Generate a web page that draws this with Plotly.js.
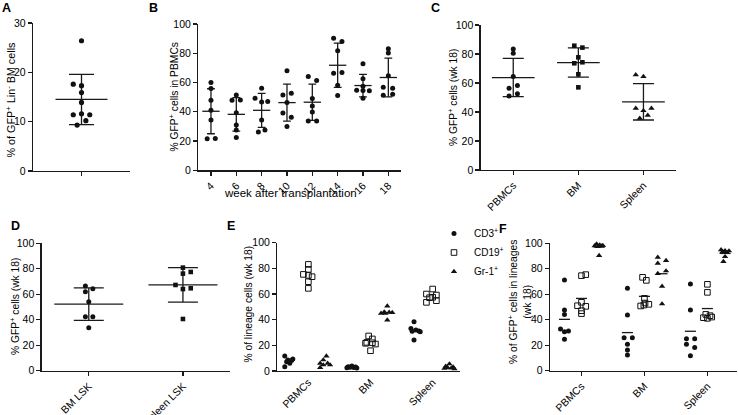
<!DOCTYPE html>
<html><head><meta charset="utf-8">
<script src="https://cdn.plot.ly/plotly-3.0.1.min.js"></script>
<style>html,body{margin:0;padding:0;background:#fff;} #chart{width:738px;height:415px;}</style>
</head><body><div id="chart"></div>
<script>
// ---------------- data ----------------
const aTicks = [0, 10, 20, 30];
const aLinBM = [26.4, 17.6, 17.3, 15.9, 13.9, 11.4, 11.6, 11.4, 10.2, 9.3];

const bWeeks = ['4', '6', '8', '10', '12', '14', '16', '18'];
const bWk4  = [60.0, 55.9, 47.9, 41.0, 34.4, 21.5, 21.8];
const bWk6  = [51.5, 47.9, 48.1, 39.4, 30.9, 27.5, 22.4];
const bWk8  = [56.1, 49.2, 46.7, 47.0, 34.4, 26.1, 27.5];
const bWk10 = [68.0, 51.5, 52.7, 46.3, 39.2, 36.2, 30.0];
const bWk12 = [64.1, 61.4, 49.0, 44.0, 39.9, 33.7, 33.7];
const bWk14 = [90.2, 88.0, 81.8, 66.4, 66.9, 58.2, 51.1];
const bWk16 = [72.8, 62.5, 57.5, 54.7, 54.3, 54.5, 49.2];
const bWk18 = [83.1, 80.2, 64.6, 56.8, 56.0, 51.3, 52.0];

const tissues = ['PBMCs', 'BM', 'Spleen'];
const cPBMC   = [83.4, 80.5, 64.4, 56.3, 58.2, 51.0, 52.6];
const cBM     = [85.7, 84.4, 77.7, 73.6, 74.3, 66.0, 57.0];
const cSpleen = [65.7, 64.4, 42.5, 40.9, 42.5, 37.7, 35.6];

const dGroups    = ['BM LSK', 'Spleen LSK'];
const dBMLSK     = [66.5, 64.4, 62.0, 54.2, 42.4, 42.4, 33.8];
const dSpleenLSK = [80.9, 76.2, 77.5, 67.3, 64.1, 64.7, 40.6];

const lineages = ['CD3<sup>+</sup>', 'CD19<sup>+</sup>', 'Gr-1<sup>+</sup>'];
const ePbmcCD3    = [11.7, 9.4, 8.6, 8.1, 7.3, 6.0, 3.4];
const ePbmcCD19   = [83.1, 79.2, 75.3, 74.5, 73.5, 69.6, 64.4];
const ePbmcGr1    = [11.7, 8.6, 6.0, 6.0, 4.7, 4.7, 2.6];
const eBmCD3      = [3.8, 3.4, 3.2, 3.0, 2.8, 2.6, 2.4];
const eBmCD19     = [27.3, 25.0, 22.3, 22.0, 21.6, 21.0, 15.8];
const eBmGr1      = [50.6, 46.0, 45.7, 45.5, 45.0, 44.9, 39.7];
const eSpleenCD3  = [38.4, 33.2, 31.9, 31.2, 31.0, 30.6, 24.2];
const eSpleenCD19 = [63.9, 60.0, 59.2, 57.5, 57.1, 54.8, 53.5];
const eSpleenGr1  = [5.5, 3.6, 3.0, 2.6, 2.3, 2.0, 1.6];

const fPbmcCD3    = [71.2, 47.6, 44.2, 32.7, 30.6, 31.2, 24.6];
const fPbmcCD19   = [74.6, 75.4, 53.7, 51.0, 50.5, 47.1, 44.8];
const fPbmcGr1    = [99.5, 98.7, 98.2, 97.4, 97.8, 98.0, 90.3];
const fBmCD3      = [64.7, 43.7, 25.9, 25.9, 20.7, 16.2, 12.3];
const fBmCD19     = [73.3, 70.9, 56.8, 53.1, 52.1, 51.5, 50.8];
const fBmGr1      = [89.0, 86.4, 84.3, 78.3, 76.2, 66.2, 52.4];
const fSpleenCD3  = [68.1, 47.6, 25.1, 25.1, 20.7, 18.3, 11.8];
const fSpleenCD19 = [67.8, 61.5, 44.2, 43.2, 41.6, 41.1, 42.1];
const fSpleenGr1  = [94.8, 94.2, 94.0, 93.5, 92.7, 89.5, 85.6];

// ---------------- scatter jitter (horizontal point placement, axis units) ----------------
const jitA = [0, -0.17, 0, 0, 0, -0.17, 0, 0.17, 0.09, -0.09];
const jitB = [
  [0, 0, 0, 0, 0, -0.15, 0.17],
  [0, -0.17, 0.16, 0, 0, 0, 0],
  [0, -0.26, 0, 0.24, 0, -0.13, 0.13],
  [0, -0.16, 0.17, 0, -0.16, 0.17, 0],
  [-0.16, 0.17, 0, 0, 0, -0.16, 0.17],
  [-0.16, 0.17, 0, -0.16, 0.17, 0, 0],
  [0, 0, 0, -0.25, 0.25, 0, 0],
  [0, 0, 0, -0.2, 0.17, -0.2, 0.17]
];
const jitC = [
  [0, 0, 0, -0.064, 0.064, -0.064, 0.064],
  [-0.062, 0.062, 0, -0.062, 0.062, 0, 0],
  [-0.118, 0, -0.118, 0, 0.123, 0.066, -0.056]
];
const jitD = [
  [-0.036, 0.043, -0.036, 0, -0.036, 0.043, 0],
  [0, 0, 0.083, -0.079, 0, 0.083, 0]
];
const jitE = [
  [[-0.08, 0.05, -0.03, 0.03, -0.05, 0, -0.08], [0, 0, -0.08, 0, 0.06, 0, 0], [0.02, -0.03, -0.08, 0.04, 0.08, -0.03, -0.08]],
  [[0, -0.06, 0.06, -0.03, 0.03, -0.08, 0.08], [-0.03, 0.03, -0.06, 0.03, -0.08, 0.08, 0], [0, -0.05, 0.03, 0.08, -0.1, -0.03, 0]],
  [[0, -0.05, 0.03, 0.08, -0.03, 0.1, 0], [0, -0.1, 0.06, 0, -0.05, 0.06, -0.1], [0, -0.06, 0.06, -0.03, 0.03, -0.08, 0.08]]
];
const jitF = [
  [[0, 0, 0, -0.063, 0, 0.063, 0], [0, 0.068, 0, -0.063, 0.068, 0, 0], [-0.04, 0.01, 0.06, -0.02, 0.04, -0.07, 0]],
  [[0, 0, -0.053, 0.078, 0, 0, 0], [-0.03, 0.03, 0, 0.01, 0.07, -0.01, -0.06], [-0.068, 0.063, -0.068, 0.063, -0.068, 0, 0]],
  [[0, 0, -0.063, 0.068, -0.063, 0.068, 0], [0, 0, -0.026, 0.042, -0.063, 0, 0.068], [-0.063, 0, 0.063, -0.037, 0.032, 0, -0.026]]
];

// ---------------- helpers ----------------
const W = 738, H = 415;
const FONT = 'Liberation Sans, Arial, Helvetica, sans-serif';
const INK = '#111';
const px = v => v / W;
const py = v => 1 - v / H;
const dX = (a, b) => [px(a), px(b)];
const dY = (top, bottom) => [py(bottom), py(top)];

function mean(a) { return a.reduce((s, v) => s + v, 0) / a.length; }
function sd(a) { const m = mean(a); return Math.sqrt(a.reduce((s, v) => s + (v - m) * (v - m), 0) / (a.length - 1)); }

const traces = [];
function points(vals, center, jit, ax, marker, extra) {
  traces.push(Object.assign({
    type: 'scatter', mode: 'markers',
    x: vals.map((v, i) => center + jit[i]), y: vals,
    xaxis: 'x' + ax, yaxis: 'y' + ax,
    marker: marker, cliponaxis: false, showlegend: false, hoverinfo: 'skip'
  }, extra || {}));
}
function summary(vals, center, ax, lineLen, capHalf, withSd) {
  const t = {
    type: 'scatter', mode: 'markers', x: [center], y: [mean(vals)],
    xaxis: 'x' + ax, yaxis: 'y' + ax, cliponaxis: false, showlegend: false, hoverinfo: 'skip',
    marker: { symbol: 'line-ew', size: lineLen / 1.4, line: { width: 1.3, color: '#1a1a1a' } }
  };
  if (withSd) t.error_y = { type: 'data', array: [sd(vals)], visible: true, width: capHalf, thickness: 1.3, color: '#1a1a1a' };
  traces.push(t);
}

const dot = { symbol: 'circle', size: 5, color: INK };
const sq = { symbol: 'square', size: 4.6, color: INK };
const tri = { symbol: 'triangle-up', size: 5.6, color: INK };
const osq = { symbol: 'square-open', size: 5.6, color: INK, line: { width: 1, color: INK } };

// Panel A
summary(aLinBM, 0, '', 52, 12.5, true);
points(aLinBM, 0, jitA, '', { symbol: 'circle', size: 5.2, color: INK });

// Panel B
const bData = [bWk4, bWk6, bWk8, bWk10, bWk12, bWk14, bWk16, bWk18];
bData.forEach((vals, i) => { summary(vals, i, '2', 17.3, 3.9, true); });
bData.forEach((vals, i) => { points(vals, i, jitB[i], '2', dot); });

// Panel C
const cData = [cPBMC, cBM, cSpleen];
const cMarks = [dot, sq, tri];
cData.forEach((vals, i) => { summary(vals, i, '3', 42.7, 10.5, true); });
cData.forEach((vals, i) => { points(vals, i, jitC[i], '3', cMarks[i]); });

// Panel D
const dData = [dBMLSK, dSpleenLSK];
const dMarks = [dot, sq];
dData.forEach((vals, i) => { summary(vals, i, '4', 69, 15, true); });
dData.forEach((vals, i) => { points(vals, i, jitD[i], '4', dMarks[i]); });

// Panels E and F
const subOffE = [-0.3, 0, 0.27];
const subOffF = [-0.27, 0, 0.28];
const linMarks = [dot, osq, tri];
const eData = [[ePbmcCD3, ePbmcCD19, ePbmcGr1], [eBmCD3, eBmCD19, eBmGr1], [eSpleenCD3, eSpleenCD19, eSpleenGr1]];
const fData = [[fPbmcCD3, fPbmcCD19, fPbmcGr1], [fBmCD3, fBmCD19, fBmGr1], [fSpleenCD3, fSpleenCD19, fSpleenGr1]];

fData.forEach((grp, g) => grp.forEach((vals, k) => summary(vals, g + subOffF[k], '6', 11, 0, false)));
eData.forEach((grp, g) => grp.forEach((vals, k) => {
  points(vals, g + subOffE[k], jitE[g][k], '5', linMarks[k],
    g === 0 ? { showlegend: true, name: lineages[k], legendgroup: 'l' + k } : { legendgroup: 'l' + k });
}));
fData.forEach((grp, g) => grp.forEach((vals, k) => points(vals, g + subOffF[k], jitF[g][k], '6', linMarks[k])));

// ---------------- layout ----------------
const axBase = {
  showline: true, linecolor: '#1a1a1a', linewidth: 1.3, ticks: 'outside', ticklen: 4, tickwidth: 1.3,
  tickcolor: '#1a1a1a', showgrid: false, zeroline: false, fixedrange: true,
  tickfont: { family: FONT, size: 10.5, color: '#000' }
};
function xa(dom, range, tickvals, ticktext, anchor, extra) {
  return Object.assign({}, axBase, { domain: dom, range: range, tickmode: 'array', tickvals: tickvals, ticktext: ticktext, anchor: anchor, tickangle: -45 }, extra || {});
}
function ya(dom, range, tickvals, anchor) {
  return Object.assign({}, axBase, { domain: dom, range: range, tickmode: 'array', tickvals: tickvals, anchor: anchor });
}
const pctTicks = [0, 20, 40, 60, 80, 100];
const idx = n => Array.from({ length: n }, (_, i) => i);

function ann(x, y, text, size, extra) {
  return Object.assign({ x: px(x), y: py(y), xref: 'paper', yref: 'paper', text: text, showarrow: false,
    xanchor: 'center', yanchor: 'middle', font: { family: FONT, size: size, color: '#000' } }, extra || {});
}
const vt = { textangle: -90 };

const layout = {
  width: W, height: H, margin: { l: 0, r: 0, t: 0, b: 0 }, paper_bgcolor: '#fff', plot_bgcolor: 'rgba(0,0,0,0)',
  showlegend: true,
  legend: { x: px(434), y: py(219), xanchor: 'left', yanchor: 'top', bgcolor: 'rgba(0,0,0,0)',
    font: { family: FONT, size: 10, color: '#000' }, itemwidth: 30, tracegroupgap: 0 },
  xaxis:  xa(dX(33, 130), [-1, 1], [0], [''], 'y', { tickangle: 0 }),
  yaxis:  ya(dY(23, 171), [0, 30], aTicks, 'x'),
  xaxis2: xa(dX(198.3, 401), [-0.5, 7.5], idx(8), bWeeks, 'y2'),
  yaxis2: ya(dY(24, 170.3), [0, 100], pctTicks, 'x2'),
  xaxis3: xa(dX(480.7, 676), [-0.5, 2.5], idx(3), tissues, 'y3'),
  yaxis3: ya(dY(25, 170), [0, 100], pctTicks, 'x3'),
  xaxis4: xa(dX(41.7, 230), [-0.5, 1.5], idx(2), dGroups, 'y4'),
  yaxis4: ya(dY(243.3, 370.7), [0, 100], pctTicks, 'x4'),
  xaxis5: xa(dX(277.3, 460), [-0.5, 2.44], idx(3), tissues, 'y5', { ticks: '' }),
  yaxis5: ya(dY(242.7, 371), [0, 100], pctTicks, 'x5'),
  xaxis6: xa(dX(550, 737), [-0.5, 2.47], idx(3), tissues, 'y6'),
  yaxis6: ya(dY(243.3, 370.7), [0, 100], pctTicks, 'x6'),
  annotations: [
    ann(6, 8.5, '<b>A</b>', 12.5), ann(153, 7.5, '<b>B</b>', 12.5), ann(435, 7.5, '<b>C</b>', 12.5),
    ann(15, 226.3, '<b>D</b>', 12.5), ann(231, 226.3, '<b>E</b>', 12.5), ann(502.5, 228.5, '<b>F</b>', 12.5),
    ann(10.5, 100, '% of GFP<sup>+</sup> Lin<sup>-</sup> BM cells', 10.8, vt),
    ann(172.5, 97, '% GFP<sup>+</sup> cells in PBMCs', 10.3, vt),
    ann(452.5, 97.5, '% GFP<sup>+</sup> cells (wk 18)', 10.3, vt),
    ann(14, 307, '% GFP<sup>+</sup> cells (wk 18)', 10.3, vt),
    ann(249, 304.6, '% of lineage cells (wk 18)', 10.3, vt),
    ann(519.5, 302.5, '% of GFP<sup>+</sup> cells in lineages<br>(wk 18)', 10.3, vt),
    ann(290.8, 192.7, 'week after transplantation', 11.5)
  ]
};

Plotly.newPlot('chart', traces, layout, { displayModeBar: false, staticPlot: true });
</script></body></html>
